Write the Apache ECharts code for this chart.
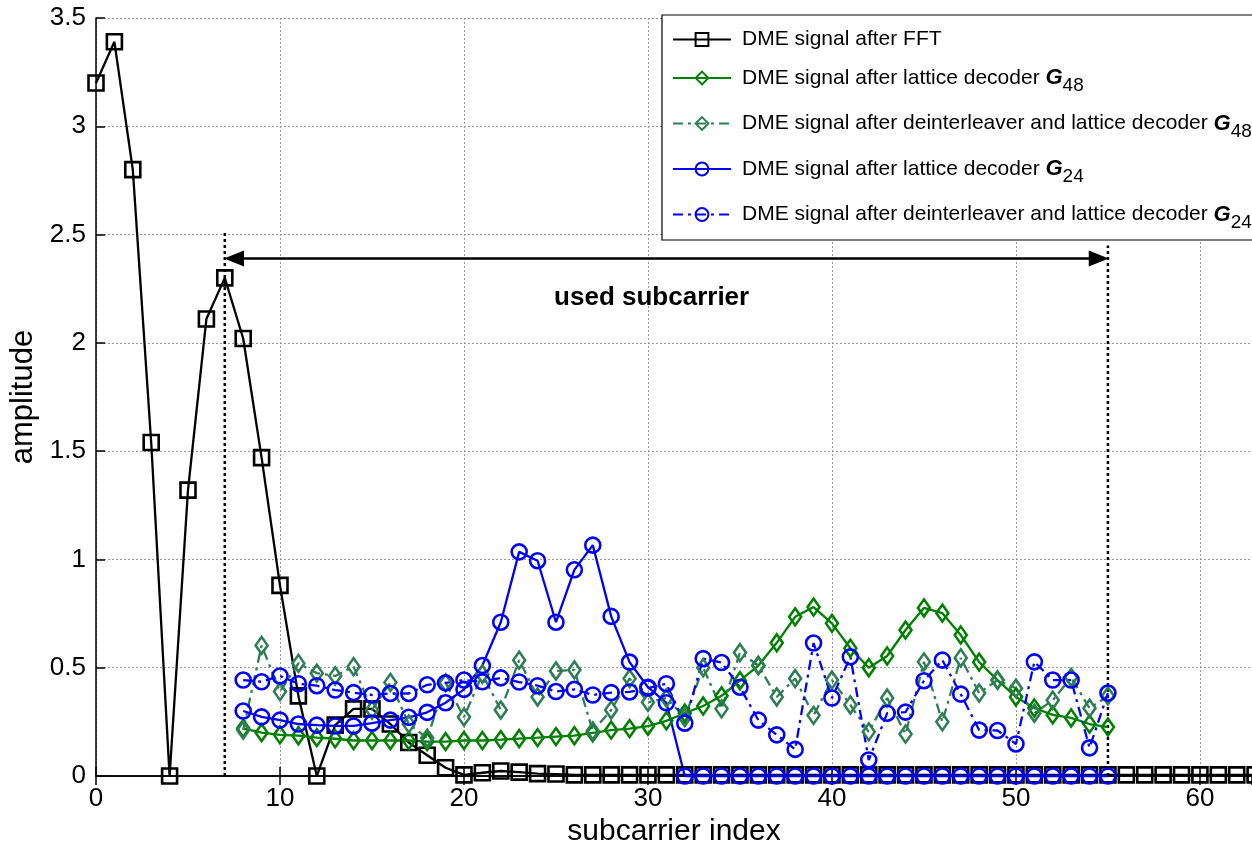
<!DOCTYPE html>
<html>
<head>
<meta charset="utf-8">
<script src="https://cdn.jsdelivr.net/npm/echarts@6/dist/echarts.min.js"></script>
<style>
html,body{margin:0;padding:0;background:#fff;overflow:hidden;}
#chart{width:1252px;height:844px;}
</style>
</head>
<body>
<div id="chart"></div>
<script>
// ---------- data ----------
const xTicks = [0, 10, 20, 30, 40, 50, 60];
const yTicks = [0, 0.5, 1, 1.5, 2, 2.5, 3, 3.5];

// index 0..63
const fftIndex = Array.from({length: 64}, (_, i) => i);
const fftValues = [3.2, 3.39, 2.8, 1.54, 0.0, 1.32, 2.11, 2.3, 2.02, 1.47,
  0.88, 0.37, 0.0, 0.235, 0.31, 0.31, 0.24, 0.155, 0.096, 0.038,
  0.005, 0.015, 0.023, 0.018, 0.011, 0.009, 0.005, 0.005, 0.005, 0.005,
  0.005, 0.005, 0.005, 0.005, 0.005, 0.005, 0.005, 0.005, 0.005, 0.005,
  0.005, 0.005, 0.005, 0.005, 0.005, 0.005, 0.005, 0.005, 0.005, 0.005,
  0.005, 0.005, 0.005, 0.005, 0.005, 0.005, 0.005, 0.005, 0.005, 0.005,
  0.005, 0.005, 0.005, 0.005];

// index 8..55
const usedIndex = Array.from({length: 48}, (_, i) => i + 8);
const g48Values = [0.22, 0.2, 0.19, 0.186, 0.177, 0.172, 0.164, 0.164, 0.164, 0.164,
  0.159, 0.159, 0.164, 0.164, 0.168, 0.173, 0.177, 0.182, 0.186, 0.199,
  0.212, 0.219, 0.23, 0.255, 0.29, 0.323, 0.37, 0.44, 0.51, 0.615,
  0.735, 0.78, 0.705, 0.59, 0.5, 0.554, 0.674, 0.776, 0.752, 0.651,
  0.526, 0.443, 0.365, 0.314, 0.282, 0.268, 0.24, 0.226];
const g48DeintValues = [0.212, 0.603, 0.39, 0.52, 0.475, 0.462, 0.505, 0.305, 0.432, 0.24,
  0.175, 0.43, 0.272, 0.47, 0.305, 0.535, 0.365, 0.485, 0.49, 0.208,
  0.305, 0.45, 0.34, 0.36, 0.27, 0.5, 0.31, 0.57, 0.51, 0.365,
  0.45, 0.28, 0.443, 0.328, 0.204, 0.36, 0.194, 0.527, 0.25, 0.545,
  0.383, 0.443, 0.405, 0.29, 0.35, 0.455, 0.313, 0.37];
const g24Values = [0.3, 0.273, 0.258, 0.24, 0.235, 0.231, 0.231, 0.244, 0.258, 0.271,
  0.294, 0.338, 0.4, 0.51, 0.71, 1.035, 0.994, 0.71, 0.952, 1.066,
  0.737, 0.526, 0.41, 0.338, 0.0, 0.0, 0.0, 0.0, 0.0, 0.0,
  0.0, 0.0, 0.0, 0.0, 0.0, 0.0, 0.0, 0.0, 0.0, 0.0,
  0.0, 0.0, 0.0, 0.0, 0.0, 0.0, 0.0, 0.0];
const g24DeintValues = [0.443, 0.435, 0.462, 0.426, 0.417, 0.397, 0.385, 0.374, 0.381, 0.381,
  0.421, 0.43, 0.443, 0.435, 0.453, 0.434, 0.417, 0.39, 0.4, 0.374,
  0.385, 0.388, 0.406, 0.426, 0.244, 0.542, 0.524, 0.41, 0.258, 0.19,
  0.123, 0.614, 0.36, 0.55, 0.074, 0.29, 0.295, 0.44, 0.535, 0.378,
  0.212, 0.21, 0.148, 0.527, 0.443, 0.443, 0.13, 0.383];

// annotation values
const usedStart = 7, usedEnd = 55;
const startLineTop = 2.51, endLineTop = 2.45;
const arrowStart = 7.5, arrowEnd = 54.5;   // centres of the arrow heads (tips at 7 and 55)
const arrowLevel = 2.39;
const annotationText = 'used subcarrier';
const annotationPos = [30.2, 2.21];

const seriesNames = [
  'DME signal after FFT',
  'DME signal after lattice decoder G48',
  'DME signal after deinterleaver and lattice decoder G48',
  'DME signal after lattice decoder G24',
  'DME signal after deinterleaver and lattice decoder G24'
];
const legendRich = {
  'DME signal after FFT': '{n|DME signal after FFT}',
  'DME signal after lattice decoder G48': '{n|DME signal after lattice decoder }{g|G}{s|48}',
  'DME signal after deinterleaver and lattice decoder G48': '{n|DME signal after deinterleaver and lattice decoder }{g|G}{s|48}',
  'DME signal after lattice decoder G24': '{n|DME signal after lattice decoder }{g|G}{s|24}',
  'DME signal after deinterleaver and lattice decoder G24': '{n|DME signal after deinterleaver and lattice decoder }{g|G}{s|24}'
};

const pair = (xs, ys) => xs.map((x, i) => [x, ys[i]]);

const FONT = 'Liberation Sans, Arial, sans-serif';
const DASHDOT = [10, 5, 3, 5];
const cBlack = '#000000', cGreen = '#008000', cTeal = '#2e7d55', cBlue = '#0000ff';

function mkSeries(name, data, color, symbol, size, dash) {
  return {
    name, type: 'line', data, symbol, symbolSize: size, showSymbol: true,
    clip: false,
    lineStyle: {color, width: 2.3, type: dash || 'solid'},
    itemStyle: {color: 'rgba(255,255,255,0)', borderColor: color, borderWidth: 2.6},
    emphasis: {disabled: true},
    animation: false
  };
}

const chart = echarts.init(document.getElementById('chart'), null, {renderer: 'canvas'});
const option = {
  animation: false,
  backgroundColor: '#fff',
  grid: {left: 96, top: 18, right: 0, height: 758, containLabel: false, outerBoundsMode: 'none'},
  xAxis: [{
    type: 'value', min: 0, max: 62.83, interval: 10,
    name: 'subcarrier index', nameLocation: 'middle', nameGap: 37,
    nameTextStyle: {fontSize: 30, fontFamily: FONT, color: '#000'},
    axisLine: {show: true, onZero: false, lineStyle: {color: '#000', width: 1.5}},
    axisTick: {show: true, inside: true, length: 9, lineStyle: {color: '#000', width: 1.5}},
    axisLabel: {fontSize: 26, fontFamily: FONT, color: '#000', margin: 10, showMaxLabel: false},
    splitLine: {show: true, lineStyle: {color: '#999', width: 1, type: [2, 2]}}
  }, {
    type: 'value', position: 'top', min: 0, max: 62.83, interval: 10,
    axisLine: {show: true, lineStyle: {color: '#000', width: 1.5}},
    axisTick: {show: true, inside: true, length: 9, lineStyle: {color: '#000', width: 1.5}},
    axisLabel: {show: false}, splitLine: {show: false}
  }],
  yAxis: {
    type: 'value', min: 0, max: 3.5, interval: 0.5,
    name: 'amplitude', nameLocation: 'middle', nameGap: 47,
    nameTextStyle: {fontSize: 31, fontFamily: FONT, color: '#000'},
    axisLine: {show: true, onZero: false, lineStyle: {color: '#000', width: 1.5}},
    axisTick: {show: true, inside: true, length: 9, lineStyle: {color: '#000', width: 1.5}},
    axisLabel: {fontSize: 26, fontFamily: FONT, color: '#000', margin: 10},
    splitLine: {show: true, lineStyle: {color: '#999', width: 1, type: [2, 2]}}
  },
  legend: {
    orient: 'vertical', left: 662, top: 15,
    data: seriesNames,
    backgroundColor: '#fff', borderColor: '#000', borderWidth: 1.2,
    padding: [14, 80, 8, 10],
    itemWidth: 58, itemHeight: 16, itemGap: 17,
    selectedMode: false,
    formatter: name => legendRich[name],
    textStyle: {
      fontSize: 21, fontFamily: FONT, color: '#000',
      rich: {
        n: {fontSize: 21, fontFamily: FONT, color: '#000', padding: [0, 0, 0, 6]},
        g: {fontSize: 22, fontFamily: FONT, fontWeight: 'bold', fontStyle: 'italic', color: '#000'},
        s: {fontSize: 19, fontFamily: FONT, color: '#000', padding: [16, 0, 0, 0]}
      }
    }
  },
  series: [
    mkSeries(seriesNames[0], pair(fftIndex, fftValues), cBlack, 'rect', 15),
    mkSeries(seriesNames[1], pair(usedIndex, g48Values), cGreen, 'diamond', [12, 17]),
    mkSeries(seriesNames[2], pair(usedIndex, g48DeintValues), cTeal, 'diamond', [12, 17], DASHDOT),
    mkSeries(seriesNames[3], pair(usedIndex, g24Values), cBlue, 'circle', 15),
    mkSeries(seriesNames[4], pair(usedIndex, g24DeintValues), cBlue, 'circle', 15, DASHDOT),
    {
      type: 'line', name: 'startLine', data: [[usedStart, 0], [usedStart, startLineTop]],
      symbol: 'none', lineStyle: {color: '#000', width: 2.5, type: [3, 3]}, z: 1, silent: true
    },
    {
      type: 'line', name: 'endLine', data: [[usedEnd, 0], [usedEnd, endLineTop]],
      symbol: 'none', lineStyle: {color: '#000', width: 2.5, type: [3, 3]}, z: 1, silent: true,
      markLine: {
        silent: true, symbol: ['triangle', 'triangle'], symbolSize: [16, 20],
        lineStyle: {color: '#000', width: 2.5, type: 'solid'},
        itemStyle: {color: '#000'},
        label: {show: false},
        data: [[{coord: [arrowStart, arrowLevel]}, {coord: [arrowEnd, arrowLevel]}]]
      }
    },
    {
      type: 'scatter', name: 'annot', data: [annotationPos], symbolSize: 0, silent: true,
      itemStyle: {opacity: 1, color: '#000'},
      label: {show: true, position: 'inside', formatter: annotationText, opacity: 1,
        fontSize: 26, fontWeight: 'bold', fontFamily: FONT, color: '#000'}
    }
  ]
};
chart.setOption(option);
</script>
</body>
</html>
